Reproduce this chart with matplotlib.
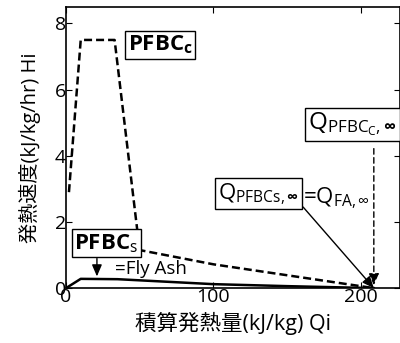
import matplotlib
matplotlib.use('Agg')
import matplotlib.pyplot as plt

plt.rcParams['font.family'] = ['Open Sans', 'Noto Sans CJK JP', 'DejaVu Sans']
plt.rcParams['mathtext.fontset'] = 'custom'
plt.rcParams['mathtext.rm'] = 'Open Sans'
plt.rcParams['mathtext.bf'] = 'Open Sans:bold'
plt.rcParams['mathtext.it'] = 'Open Sans:italic'

# cumulative heat (kJ/kg) vs heat release rate (kJ/kg/hr)
q_pfbc_c = [2, 10, 33, 50, 100, 209]
h_pfbc_c = [2.9, 7.5, 7.5, 1.15, 0.72, 0.0]

q_pfbc_s = [0, 10, 35, 100, 150, 209]
h_pfbc_s = [0.0, 0.28, 0.27, 0.12, 0.06, 0.0]

q_inf = 209  # total heat at infinite time

xticks = [0, 100, 200]
yticks = [0, 2, 4, 6, 8]

fig = plt.figure(figsize=(4.0, 3.43), dpi=100)
ax = fig.add_axes([0.165, 0.160, 0.834, 0.820])

ax.plot(q_pfbc_c, h_pfbc_c, color='black', lw=1.8, linestyle=(0, (3.2, 1.6)))
ax.plot(q_pfbc_s, h_pfbc_s, color='black', lw=1.8)

ax.set_xlim(0, 226.5)
ax.set_ylim(0, 8.5)
ax.set_xticks(xticks)
ax.set_yticks(yticks)
ax.tick_params(direction='in', top=True, right=True, labelsize=14, length=4, pad=0)
for s in ax.spines.values():
    s.set_linewidth(1.2)

ax.set_xlabel('積算発熱量(kJ/kg) Qi', fontsize=15.5, labelpad=4)
ax.set_ylabel('発熱速度(kJ/kg/hr) Hi', fontsize=14.5, labelpad=10)

box = dict(boxstyle='square,pad=0.12', fc='white', ec='black', lw=1.0)

ax.text(64, 7.36, r'PFBC$_\mathbf{c}$', fontsize=16, fontweight='bold',
        ha='center', va='center', bbox=box)
ax.text(27.5, 1.35, r'PFBC$_\mathrm{s}$', fontsize=16, fontweight='bold',
        ha='center', va='center', bbox=box)
ax.text(33, 0.58, '=Fly Ash', fontsize=13.5, ha='left', va='center')

ax.annotate('', xy=(21, 0.27), xytext=(21, 0.98),
            arrowprops=dict(arrowstyle='-|>,head_length=0.7,head_width=0.3',
                            color='black', lw=1.0))

ax.text(194.5, 4.94, r'Q$_{\mathrm{PFBC}_{\mathrm{C}},\mathbf{\infty}}$', fontsize=17.5,
        ha='center', va='center', bbox=box)
ax.annotate('', xy=(q_inf, 0), xytext=(q_inf, 4.3),
            arrowprops=dict(arrowstyle='-|>,head_length=0.7,head_width=0.3',
                            color='black', lw=1.0, linestyle=(0, (4, 2.5))))

ax.text(130.6, 2.85, r'Q$_{\mathrm{PFBCs},\mathbf{\infty}}$', fontsize=16,
        ha='center', va='center', bbox=box)
ax.text(161, 2.73, r'=Q$_{\mathrm{FA},\infty}$', fontsize=16, ha='left', va='center')
ax.annotate('', xy=(q_inf, 0), xytext=(161, 2.45),
            arrowprops=dict(arrowstyle='-|>,head_length=0.7,head_width=0.3',
                            color='black', lw=1.0, shrinkA=0, shrinkB=0))

fig.savefig('out.png', dpi=100)
